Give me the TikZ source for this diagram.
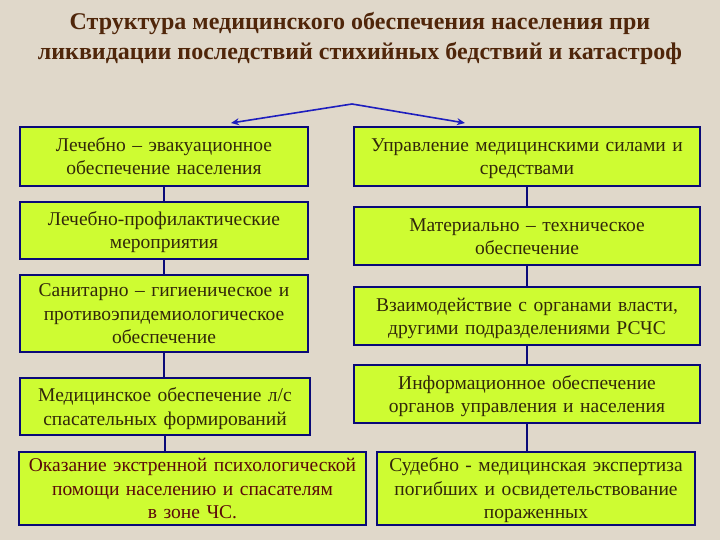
\documentclass[tikz,border=0pt]{standalone}
\usepackage{fontspec}
\setmainfont{Liberation Serif}
\usetikzlibrary{arrows.meta}
\definecolor{bg}{RGB}{224,216,202}
\definecolor{boxfill}{RGB}{206,252,50}
\definecolor{boxline}{RGB}{10,10,120}
\definecolor{txt}{RGB}{50,40,10}
\definecolor{txtred}{RGB}{90,10,10}
\definecolor{ttl}{RGB}{80,38,10}
\definecolor{arr}{RGB}{30,30,190}
\newcommand{\topstrut}{\rule{0pt}{18.5pt}}
\newcommand{\botstrut}{\rule[-5pt]{0pt}{5pt}}
\tikzset{
  box/.style={draw=boxline, line width=2.2pt, fill=boxfill, align=center,
    text=txt, inner sep=0pt, font=\fontsize{19.5}{23.5}\selectfont,
    execute at begin node=\topstrut, execute at end node=\botstrut},
  link/.style={draw=boxline, line width=2pt},
  toparrow/.style={draw=arr, line width=1.6pt, -{Stealth[length=8pt,width=7pt]}}
}
\begin{document}
\begin{tikzpicture}[x=1pt,y=-1pt]
\useasboundingbox (0,0) rectangle (720,540);
\fill[bg] (0,0) rectangle (720,540);
\node[text=ttl, align=center, font=\bfseries\fontsize{24}{30}\selectfont] (title) at (360,38)
  {Структура медицинского обеспечения населения при\\ликвидации последствий стихийных бедствий и катастроф};
% left column
\node[box, minimum width=288, minimum height=59, text width=284] (L1) at (164,156.5)
  {Лечебно – эвакуационное\\обеспечение населения};
\node[box, minimum width=288, minimum height=57, text width=284] (L2) at (164,230.5)
  {Лечебно-профилактические\\мероприятия};
\node[box, minimum width=288, minimum height=77, text width=284] (L3) at (164,313.5)
  {Санитарно – гигиеническое и\\противоэпидемиологическое\\обеспечение};
\node[box, minimum width=290, minimum height=57, text width=286] (L4) at (165,406.5)
  {Медицинское обеспечение л/с\\спасательных формирований};
\node[box, minimum width=347, minimum height=73, text width=343, text=txtred] (L5) at (192.5,488.5)
  {Оказание экстренной психологической\\помощи населению и спасателям\\в зоне ЧС.};
% right column
\node[box, minimum width=346, minimum height=59, text width=342] (R1) at (527,156.5)
  {Управление медицинскими силами и\\средствами};
\node[box, minimum width=346, minimum height=58, text width=342] (R2) at (527,236)
  {Материально – техническое\\обеспечение};
\node[box, minimum width=346, minimum height=58, text width=342] (R3) at (527,316)
  {Взаимодействие с органами власти,\\другими подразделениями РСЧС};
\node[box, minimum width=346, minimum height=58, text width=342] (R4) at (527,394)
  {Информационное обеспечение\\органов управления и населения};
\node[box, minimum width=318, minimum height=73, text width=314] (R5) at (536,488.5)
  {Судебно - медицинская экспертиза\\погибших и освидетельствование\\пораженных};
% connectors
\draw[link] (L1.south) -- (L2.north);
\draw[link] (L2.south) -- (L3.north);
\draw[link] (L3.south) -- (L3.south |- L4.north);
\draw[link] (L4.south) -- (L4.south |- L5.north);
\draw[link] (R1.south) -- (R2.north);
\draw[link] (R2.south) -- (R3.north);
\draw[link] (R3.south) -- (R4.north);
\draw[link] (R4.south) -- (R4.south |- R5.north);
% top arrows
\coordinate (apex) at (352,104);
\coordinate (lt) at (231,123);
\coordinate (rt) at (465,123);
\draw[toparrow] (apex) -- (lt);
\draw[toparrow] (apex) -- (rt);
\end{tikzpicture}
\end{document}
